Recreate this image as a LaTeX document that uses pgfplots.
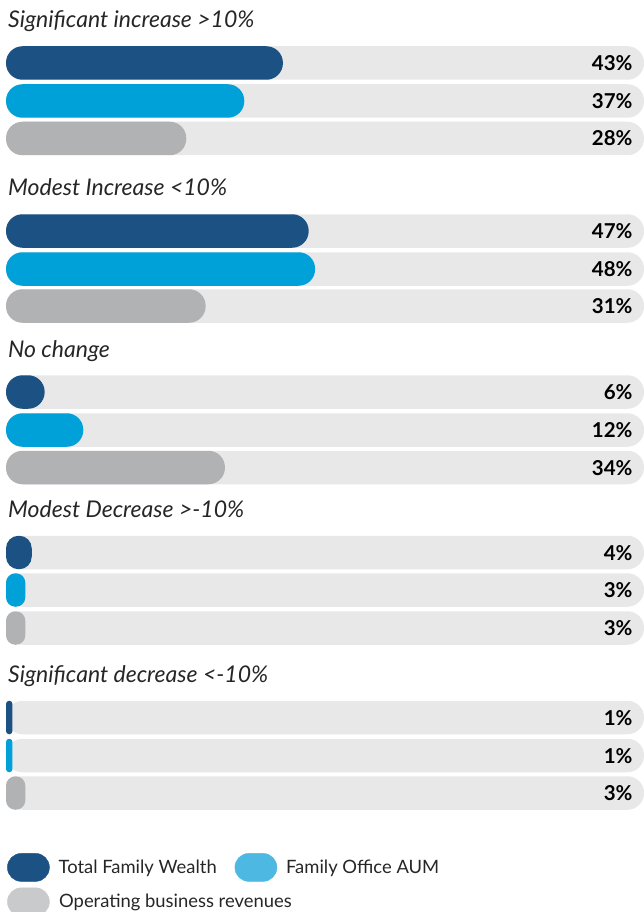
\documentclass[border=0pt]{standalone}
\usepackage{fontspec}
\setmainfont{Lato}
\usepackage{pgfplots}
\pgfplotsset{compat=1.18}
\definecolor{wealth}{HTML}{1B5283}
\definecolor{aum}{HTML}{00A0D9}
\definecolor{revenue}{HTML}{B1B2B4}
\definecolor{track}{HTML}{E8E8E8}
\definecolor{aumkey}{HTML}{4DB9E3}
\definecolor{revkey}{HTML}{C9CACC}
\definecolor{inktext}{HTML}{262626}

\begin{document}
\begin{tikzpicture}
\useasboundingbox (0,0) rectangle (644pt,912pt);
\begin{axis}[
  at={(0,0)}, anchor=south west,
  scale only axis, width=644pt, height=912pt,
  xmin=-0.932, xmax=99.07, ymin=0, ymax=912, y dir=reverse,
  hide axis, clip=false,
  xbar, bar shift=0pt, bar width=33.5,
  legend columns=2, legend cell align=left,
  legend style={at={(axis description cs:0.0109,0.0647)}, anchor=north west,
    draw=none, fill=none, inner sep=0pt, font=\fontsize{18.4}{22}\selectfont, text=inktext,
    /tikz/every odd column/.append style={column sep=9pt},
    /tikz/every even column/.append style={column sep=18pt},
    row sep=6pt, nodes={inner sep=0pt}},
]
% grey tracks with the value labels at their right end
\addplot[fill=track, draw=none, rounded corners=16.5pt, forget plot,
  point meta=explicit symbolic, nodes near coords,
  nodes near coords align={anchor=base east},
  nodes near coords style={anchor=base east, xshift=-8pt, yshift=-7.5pt,
    font=\fontsize{20.5}{24}\selectfont\bfseries, text=black}]
  coordinates {
  (99.07,63) [43\%] (99.07,101) [37\%] (99.07,138.5) [28\%]
  (99.07,231) [47\%] (99.07,269) [48\%] (99.07,306) [31\%]
  (99.07,392) [6\%] (99.07,430) [12\%] (99.07,467.5) [34\%]
  (99.07,552.5) [4\%] (99.07,590) [3\%] (99.07,628) [3\%]
  (99.07,717.5) [1\%] (99.07,755.5) [1\%] (99.07,793) [3\%]};

% Total Family Wealth
\addplot[fill=wealth, draw=none, rounded corners=16.5pt, forget plot] coordinates {(43,63) (47,231) (6,392)};
\addplot[fill=wealth, draw=none, rounded corners=12.6pt, forget plot] coordinates {(4,552.5)};
\addplot[fill=wealth, draw=none, rounded corners=3.1pt, forget plot] coordinates {(1,717.5)};
% Family Office AUM
\addplot[fill=aum, draw=none, rounded corners=16.5pt, forget plot] coordinates {(37,101) (48,269) (12,430)};
\addplot[fill=aum, draw=none, rounded corners=9.4pt, forget plot] coordinates {(3,590)};
\addplot[fill=aum, draw=none, rounded corners=3.1pt, forget plot] coordinates {(1,755.5)};
% Operating business revenues
\addplot[fill=revenue, draw=none, rounded corners=16.5pt, forget plot] coordinates {(28,138.5) (31,306) (34,467.5)};
\addplot[fill=revenue, draw=none, rounded corners=9.4pt, forget plot] coordinates {(3,628) (3,793)};

\addlegendimage{legend image code/.code={\fill[wealth, rounded corners=13.9pt] (0pt,-14pt) rectangle (42pt,14pt);}}
\addlegendimage{legend image code/.code={\fill[aumkey, rounded corners=13.9pt] (0pt,-14pt) rectangle (42pt,14pt);}}
\addlegendimage{legend image code/.code={\fill[revkey, rounded corners=13.9pt] (0pt,-14pt) rectangle (42pt,14pt);}}
\legend{Total Family Wealth, Family Office AUM, \rlap{Operating business revenues}}

\begin{scope}[every node/.style={anchor=base west, inner sep=0pt, text=inktext,
    font=\fontsize{23}{27}\selectfont\itshape}]
\node at (axis cs:0.31,28) {Significant increase >10\%};
\node at (axis cs:0.31,196) {Modest Increase <10\%};
\node at (axis cs:0.31,357) {No change};
\node at (axis cs:0.31,517) {Modest Decrease >-10\%};
\node at (axis cs:0.31,682) {Significant decrease <-10\%};
\end{scope}
\end{axis}
\end{tikzpicture}
\end{document}
